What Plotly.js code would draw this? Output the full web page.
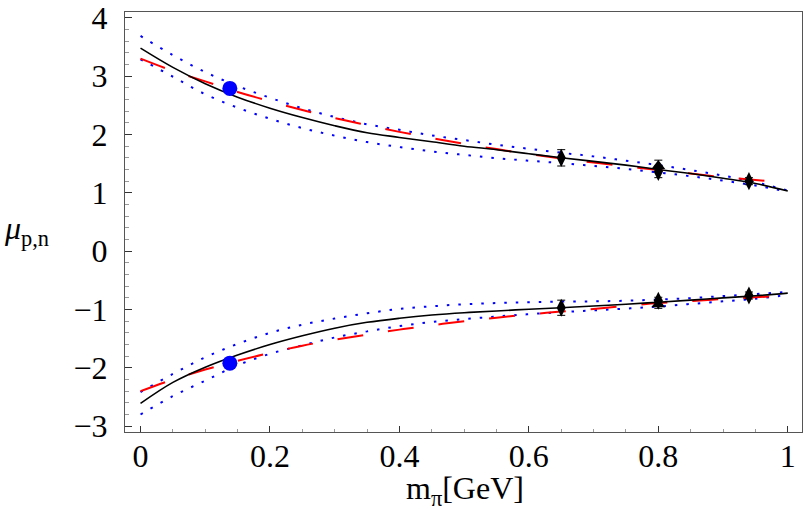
<!DOCTYPE html>
<html><head><meta charset="utf-8">
<script src="https://cdn.plot.ly/plotly-3.0.1.min.js"></script>
<style>html,body{margin:0;padding:0;background:#fff}#chart{width:804px;height:509px}</style>
</head><body><div id="chart"></div>
<script>
// m_pi grid (GeV)
const mpi = [0,0.05,0.1,0.15,0.2,0.25,0.3,0.35,0.4,0.45,0.5,0.55,0.6,0.65,0.7,0.75,0.8,0.85,0.9,0.95,1.0];
// proton curves
const protonFit   = [3.48,3.15,2.87,2.64,2.45,2.29,2.15,2.03,1.95,1.875,1.80,1.74,1.67,1.60,1.54,1.475,1.40,1.33,1.25,1.16,1.03];
const protonAlt   = [3.30,3.09,2.91,2.73,2.57,2.42,2.28,2.16,2.045,1.94,1.84,1.75,1.665,1.59,1.52,1.455,1.39,1.33,1.27,1.22,1.17];
const protonBandHi= [3.69,3.36,3.07,2.83,2.63,2.45,2.30,2.175,2.08,1.985,1.905,1.825,1.755,1.687,1.625,1.55,1.475,1.39,1.295,1.185,1.04];
const protonBandLo= [3.29,2.99,2.69,2.46,2.27,2.11,1.98,1.87,1.785,1.71,1.65,1.595,1.55,1.51,1.46,1.41,1.35,1.285,1.21,1.125,1.02];
// neutron curves
const neutronFit   = [-2.61,-2.25,-1.99,-1.78,-1.60,-1.45,-1.32,-1.22,-1.15,-1.095,-1.055,-1.025,-0.995,-0.97,-0.94,-0.91,-0.875,-0.84,-0.80,-0.765,-0.72];
const neutronAlt   = [-2.40,-2.20,-2.03,-1.88,-1.745,-1.62,-1.52,-1.43,-1.345,-1.27,-1.20,-1.14,-1.085,-1.035,-0.99,-0.94,-0.89,-0.855,-0.82,-0.79,-0.765];
const neutronBandHi= [-2.415,-2.105,-1.82,-1.59,-1.40,-1.26,-1.155,-1.065,-0.99,-0.945,-0.91,-0.89,-0.875,-0.865,-0.86,-0.85,-0.83,-0.805,-0.77,-0.735,-0.70];
const neutronBandLo= [-2.80,-2.485,-2.22,-1.955,-1.76,-1.615,-1.48,-1.375,-1.285,-1.215,-1.165,-1.12,-1.08,-1.045,-1.015,-0.985,-0.95,-0.905,-0.86,-0.815,-0.75];
// physical point
const physX = [0.138, 0.138];
const physY = [2.79, -1.92];
// lattice points (diamonds)
const latX   = [0.65, 0.80, 0.94, 0.65, 0.80, 0.94];
const latY   = [1.60, 1.36, 1.20, -0.97, -0.85, -0.76];
const latErr = [0.14, 0.10, 0.06, 0.13, 0.06, 0.06];
// lattice points (triangles)
const triX   = [0.80, 0.80];
const triY   = [1.46, -0.91];
const triErr = [0.10, 0.07];

const dotted = {color:'#0000ff', width:2, dash:'2.5px,9px'};
const dashed = {color:'#ff0000', width:2, dash:'26px,25px'};
const solid  = {color:'#000000', width:1.6};
function line(y, style){ return {x:mpi, y:y, mode:'lines', line:Object.assign({shape:'spline'}, style), hoverinfo:'skip', showlegend:false}; }

const data = [
  line(protonBandHi, dotted), line(protonBandLo, dotted),
  line(neutronBandHi, dotted), line(neutronBandLo, dotted),
  line(protonAlt, dashed), line(neutronAlt, dashed),
  line(protonFit, solid), line(neutronFit, solid),
  {x:triX, y:triY, mode:'markers', marker:{symbol:'triangle-up', size:12, color:'#000'},
   error_y:{type:'data', array:triErr, color:'#000', thickness:1, width:4}, showlegend:false},
  {x:latX, y:latY, mode:'markers', marker:{symbol:'diamond-tall', size:13, color:'#000'},
   error_y:{type:'data', array:latErr, color:'#000', thickness:1, width:4}, showlegend:false},
  {x:physX, y:physY, mode:'markers', marker:{symbol:'circle', size:15, color:'#0000ff'}, showlegend:false}
];

const font = {family:'"Liberation Serif", "Times New Roman", serif', size:32, color:'#000'};
const layout = {
  width:804, height:509,
  margin:{l:125, r:2, t:12, b:77},
  paper_bgcolor:'#fff', plot_bgcolor:'#fff',
  font:font,
  xaxis:{range:[-0.024,1.022], tick0:0, dtick:0.2, ticks:'inside', ticklen:6, tickcolor:'#333', tickwidth:1,
    minor:{dtick:0.05, ticks:'inside', ticklen:3.5, tickcolor:'#999'},
    showline:true, linecolor:'#555', linewidth:1, mirror:true, showgrid:false, zeroline:false,
    tickfont:font, ticklabelstandoff:-4},
  yaxis:{range:[-3.1,4.1], tick0:0, dtick:1, ticks:'inside', ticklen:7, tickcolor:'#333', tickwidth:1,
    minor:{dtick:0.2, ticks:'inside', ticklen:3.5, tickcolor:'#999'},
    showline:true, linecolor:'#555', linewidth:1, mirror:true, showgrid:false, zeroline:false,
    tickfont:font, ticklabelstandoff:10},
  annotations:[
    {xref:'paper', yref:'paper', x:-0.145, y:0.48, xanchor:'center', yanchor:'middle', showarrow:false,
     text:'<i>μ</i><sub>p,n</sub>', font:font},
    {xref:'paper', yref:'paper', x:0.502, y:-0.14, xanchor:'center', yanchor:'middle', showarrow:false,
     text:'m<sub>π</sub>[GeV]', font:font}
  ]
};
Plotly.newPlot('chart', data, layout, {displayModeBar:false, staticPlot:true});
</script></body></html>
